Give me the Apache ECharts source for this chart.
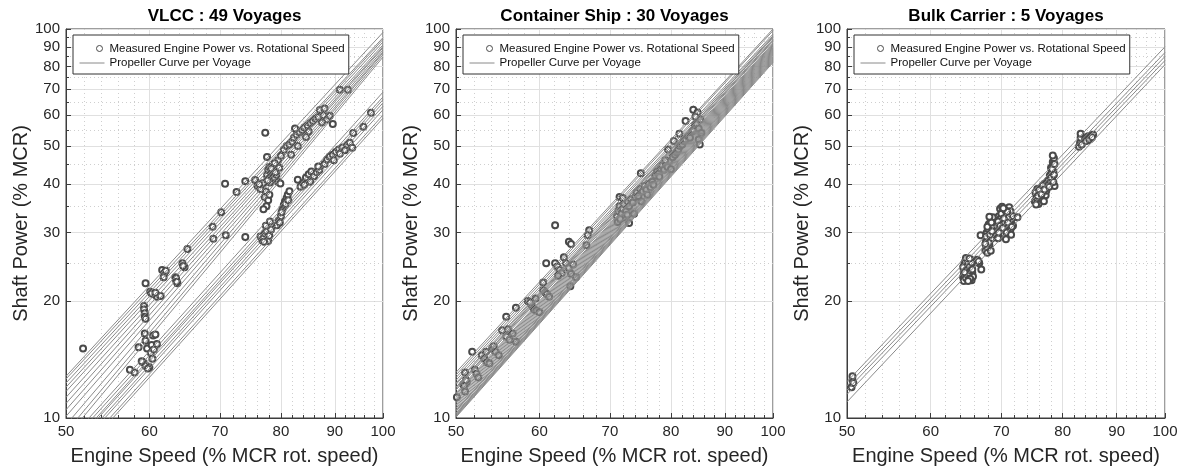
<!DOCTYPE html>
<html><head><meta charset="utf-8">
<script src="https://cdn.jsdelivr.net/npm/echarts@6/dist/echarts.min.js"></script>
<style>html,body{margin:0;padding:0;background:#fff}#c{width:1186px;height:472px}</style>
</head><body><div id="c"></div><script>
// ---------- data ----------
const xMajorTicks = [50, 60, 70, 80, 90, 100];
const xMinorTicks = [52, 54, 56, 58, 62, 64, 66, 68, 72, 74, 76, 78, 82, 84, 86, 88, 92, 94, 96, 98];
const yMajorTicks = [10, 20, 30, 40, 50, 60, 70, 80, 90, 100];
const yMinorTicks = [25, 35, 45, 55, 65, 75, 85, 95];
const panelTitles = ['VLCC : 49 Voyages', 'Container Ship : 30 Voyages', 'Bulk Carrier : 5 Voyages'];
const seriesNames = ['Measured Engine Power vs. Rotational Speed', 'Propeller Curve per Voyage'];
const xAxisTitle = 'Engine Speed (% MCR rot. speed)';
const yAxisTitle = 'Shaft Power (% MCR)';
// propeller curves are given by their power at 50 % and 100 % speed
const curveSpeeds = [50, 100];

const vlccPoints = [
[51.9,15.1],[57.5,13.3],[58.1,13.1],[58.6,15.2],[59.4,16.5],[59.5,15.8],[59.7,15.1],[60.5,16.3],[60.8,16.4],[60.3,15.4],
[60.2,14.7],[59.2,13.9],[59.5,13.6],[60.0,13.5],[59.8,13.4],[60.6,15.0],[61.0,15.5],[59.0,14.0],[60.4,14.2],
[59.3,19.4],[59.3,19.0],[59.4,18.6],[59.4,18.2],[59.5,18.0],[59.5,22.2],[60.1,21.1],[60.6,20.8],[61.0,20.5],[61.5,20.6],
[60.3,20.9],[60.8,21.0],[61.7,24.0],[62.0,23.6],[62.2,23.9],[61.9,23.0],[63.5,23.0],[63.6,22.6],[63.8,22.2],[63.6,22.9],
[63.7,22.4],[64.5,25.0],[64.8,24.4],[64.6,24.6],[65.2,27.2],[68.9,31.0],[69.0,28.9],[70.2,33.8],[70.8,40.0],[70.9,29.5],
[72.6,38.1],[74.0,40.6],[74.0,29.2],[75.6,40.9],[76.0,39.5],[76.5,38.8],[77.0,40.2],[76.3,39.9],
[77.6,42.0],[77.8,43.5],[78.0,44.2],[78.2,41.0],[78.4,42.5],[78.6,43.0],[78.8,41.5],[79.0,43.8],[79.2,42.2],[79.5,40.5],
[79.7,44.0],[78.1,40.3],[77.9,41.3],[78.5,44.0],[79.0,42.8],[78.3,43.8],[77.7,40.8],
[77.4,38.2],[77.2,37.0],[77.8,36.3],[77.5,35.0],[77.0,34.4],[78.0,37.5],
[76.5,29.3],[76.8,28.6],[77.0,29.0],[77.2,29.8],[77.5,30.2],[77.8,28.5],[78.0,29.4],[78.3,30.5],[77.4,31.2],[78.1,32.0],[77.1,28.4],
[79.3,31.3],[79.6,32.2],[80.0,33.0],[80.3,34.5],[80.5,35.3],[80.7,36.0],[81.0,36.8],[81.2,37.5],[81.5,38.3],[80.1,33.8],
[80.8,35.5],[79.8,31.8],[81.3,36.3],[79.9,40.1],[83.0,41.0],
[83.5,39.3],[84.0,40.2],[84.5,41.5],[85.0,42.3],[85.5,43.0],[86.0,41.8],[86.5,42.8],[87.0,43.4],[84.2,39.8],[85.3,40.5],[86.8,44.3],
[88.0,45.0],[88.5,46.2],[89.0,47.0],[89.6,47.5],[90.2,48.3],[90.8,49.0],[91.5,49.6],[92.0,48.8],[92.5,50.4],[93.0,51.0],
[93.5,49.5],[89.8,46.0],[91.0,47.8],[93.7,54.0],[95.8,56.1],[97.4,60.9],
[80.5,48.9],[81.0,50.0],[81.5,50.5],[82.0,51.3],[82.3,52.5],[82.8,53.5],[83.3,54.3],[83.8,55.0],[84.2,55.8],[84.8,56.5],
[85.3,57.3],[85.8,58.0],[86.3,58.8],[86.8,59.4],[82.5,55.5],[81.8,47.5],[83.0,50.0],[84.5,52.8],[85.0,54.5],
[79.5,46.0],[80.0,47.2],[78.9,45.2],[77.3,54.1],[77.6,46.9],
[87.1,61.9],[87.8,60.0],[88.5,58.5],[89.0,59.8],[89.6,57.0],[88.0,62.5],[87.5,57.5],[91.0,69.8],[92.6,69.8]
];
const vlccCurves = [
[12.8,98],[12.6,95],[12.3,94],[12.0,92.6],[11.7,91],[11.3,90],[10.9,89.4],[10.5,88.3],[10.1,87.3],[9.6,86.8],[9.2,85.8],[8.9,84.7],
[8.6,68.8],[8.4,66.9],[8.2,65.8],[8.1,64.6],[7.9,63.3],[7.75,62],[7.5,60.1],[7.35,59]
];

const containerPoints = [
[50.1,11.3],[51.0,11.7],[50.8,12.2],[51.0,12.3],[51.2,12.4],[50.9,12.1],[51.1,12.5],[51.0,13.1],[51.8,14.8],[52.1,13.3],
[52.3,13.0],[52.5,12.7],[52.9,14.5],[53.2,14.2],[53.5,13.9],[53.8,13.8],[53.4,14.8],[54.1,15.1],[54.5,14.8],[54.9,14.5],
[54.3,15.3],[55.3,16.8],[55.8,16.2],[56.2,15.9],[56.6,16.5],[57.0,15.7],[56.0,16.9],
[55.8,18.2],[57.0,19.2],[58.5,20.0],[59.0,19.5],[59.3,19.0],[59.6,18.9],[60.0,18.7],[58.8,19.8],[59.5,20.3],
[60.5,21.3],[60.8,21.0],[61.0,20.8],[61.3,20.5],[60.5,22.3],[60.9,25.0],[62.1,31.3],
[62.1,25.0],[62.4,24.5],[62.7,24.0],[63.0,23.6],[62.5,23.2],[63.3,25.9],[63.6,25.0],[64.0,24.3],[64.3,23.5],[64.6,24.8],
[65.0,23.0],[64.2,21.8],[64.0,28.4],[64.3,28.0],[66.5,27.8],[66.9,30.4],[66.7,29.5],
[71.1,33.0],[71.3,34.0],[71.5,35.0],[71.8,33.5],[72.0,34.5],[72.2,35.5],[72.5,34.0],[72.8,36.0],[73.0,35.0],[73.3,36.5],
[73.6,35.8],[74.0,37.0],[71.5,37.0],[72.3,32.8],[71.2,31.9],[73.0,31.7],[72.0,36.8],[73.8,33.5],[71.6,32.5],[72.7,33.3],
[74.2,38.0],[74.5,37.2],[74.8,38.8],[75.2,38.2],[75.5,39.5],[75.8,38.6],[76.2,40.0],[76.5,39.2],[76.8,40.5],[77.0,39.8],
[74.9,42.6],[75.0,36.0],[76.0,37.5],
[77.3,42.0],[77.6,43.0],[77.9,42.5],[78.2,43.8],[78.5,44.5],[78.8,43.5],[79.1,45.0],[79.4,44.2],[79.7,45.8],[80.0,43.6],
[78.0,41.7],[79.0,46.0],
[80.3,46.8],[80.7,47.5],[81.0,48.2],[81.3,49.0],[81.6,50.0],[82.0,50.5],[82.3,51.5],[82.6,52.0],[82.6,58.0],[83.0,53.0],
[83.4,52.5],[83.8,54.5],[84.0,55.0],[84.3,56.5],[84.6,57.0],[85.0,55.5],[84.0,62.0],[84.8,61.0],[85.0,52.0],[85.2,50.5],
[85.3,58.5],[85.5,54.0],[84.4,59.5],[81.5,53.8],[80.5,51.5],[79.5,49.0]
];
const containerCurves = [
[13.1,100],[12.9,99],[12.7,97],[12.5,96],[12.3,95],[12.2,94],[12.0,93.5],[11.9,93],[11.8,92],[11.6,91.5],
[11.5,91],[11.4,90.5],[11.3,90],[11.2,89.5],[11.1,89],[11.0,88.5],[10.9,88],[10.8,87.5],[10.7,87],[10.6,86.5],
[10.5,86],[10.45,85.5],[10.4,85],[10.3,84.5],[10.25,84],[10.2,83.5],[10.15,83],[10.1,82.5],[10.05,82],[12.0,95.5]
];

const bulkPoints = [
[50.6,12.5],[50.5,12.0],[50.7,12.3],[50.6,12.8],
[64.4,23.0],[64.5,24.0],[64.6,25.0],[64.7,23.5],[64.8,24.5],[64.9,22.7],[65.0,25.3],[65.1,23.8],[65.2,24.8],[65.3,23.2],
[65.4,24.2],[65.5,25.5],[65.6,22.6],[65.7,23.6],[64.5,22.5],[64.6,24.7],[64.9,25.6],[65.2,22.9],[65.4,25.0],[65.0,24.1],
[64.7,23.9],[65.6,24.4],[65.8,23.1],[64.4,24.4],[64.5,23.3],[64.7,25.3],[64.8,22.9],[64.9,24.0],[65.0,23.4],[65.1,25.0],
[65.2,23.6],[65.3,24.5],[65.4,22.8],[65.5,23.9],[65.6,25.1],[65.7,24.1],[64.6,23.7],[64.8,25.8],[65.1,22.5],[65.3,25.7],
[66.4,25.5],[66.7,25.0],[67.0,24.1],[66.9,29.5],[66.6,25.3],
[67.6,27.0],[67.7,28.5],[67.8,30.0],[67.9,26.6],[68.0,29.2],[68.1,31.5],[68.2,27.8],[68.3,30.7],[68.4,32.2],[68.5,28.9],
[68.6,31.0],[68.7,32.8],[68.8,29.8],[67.8,27.5],[68.0,30.6],[68.4,26.9],[67.7,29.3],[67.9,31.0],[68.1,28.2],[68.3,29.6],
[68.5,31.8],[68.2,32.9],[67.6,28.0],[68.6,30.2],
[69.4,31.0],[69.6,33.0],[69.8,34.5],[70.0,30.2],[70.2,32.0],[70.4,33.8],[70.6,29.5],[70.8,31.3],[71.0,33.2],[71.2,34.8],
[71.4,30.5],[71.6,32.5],[71.8,31.2],[69.5,29.0],[70.1,34.9],[70.7,28.8],[71.0,30.0],[69.9,32.6],[70.5,31.7],[71.3,33.9],
[69.7,30.4],[70.3,29.8],[69.5,32.0],[69.8,31.2],[70.0,33.5],[70.2,30.8],[70.4,32.6],[70.6,34.2],[70.8,30.0],[71.0,31.8],
[71.2,32.9],[71.4,34.0],[71.6,31.0],[71.8,33.0],[70.9,33.9],[70.3,34.6],[69.6,30.0],[71.5,29.6],
[72.5,32.8],
[75.3,36.0],[75.5,37.5],[75.7,38.8],[75.9,35.5],[76.1,37.0],[76.3,39.0],[76.5,36.5],[76.7,38.0],[76.9,40.0],[77.1,37.4],
[77.3,39.2],[77.5,40.8],[75.6,36.8],[76.2,38.2],[76.8,36.1],[77.0,39.8],[75.4,38.0],[75.8,37.2],[76.0,38.6],[76.4,37.6],
[76.6,39.6],[77.2,38.4],[75.5,35.4],[76.9,38.7],
[77.6,40.0],[77.8,42.0],[78.0,44.0],[78.2,41.0],[78.3,45.5],[78.4,43.0],[78.5,46.5],[78.6,39.5],[78.3,47.3],[77.9,40.8],
[78.1,42.8],[78.4,44.8],[78.0,41.5],[78.2,43.6],[78.5,42.2],[78.6,45.0],[77.7,39.3],[78.4,40.4],
[82.9,49.8],[83.1,51.0],[83.2,52.5],[83.2,53.8],[83.4,50.5],[84.0,52.0],[84.3,52.5],[84.6,53.0],[84.9,52.8],[85.2,53.3],
[85.5,53.5],[84.5,51.8],[85.0,52.2],[84.2,51.5],[84.8,52.0],[85.3,52.7]
];
const bulkCurves = [[12.4,90],[12.1,87],[11.8,85],[11.5,83],[11.0,81]];

// ---------- chart ----------
const panelPoints = [vlccPoints, containerPoints, bulkPoints];
const panelCurves = [vlccCurves, containerCurves, bulkCurves];
const FONT = 'Liberation Sans, Arial, Helvetica, sans-serif';
const gridBoxes = [
  {left: 66, top: 29, width: 317, height: 389},
  {left: 456, top: 29, width: 317, height: 389},
  {left: 847, top: 29, width: 318, height: 389}
];
const axisColor = '#3c3c3c';
const markerColor = '#4a4a4a';
const curveColor = '#8a8a8a';
const grids = [], xAxes = [], yAxes = [], titles = [], legends = [], series = [];

gridBoxes.forEach((g, i) => {
  grids.push(Object.assign({show: true, borderColor: axisColor, borderWidth: 1, backgroundColor: '#fff', outerBoundsMode: 'none', containLabel: false}, g));
  titles.push({text: panelTitles[i], left: g.left + g.width / 2, top: 8, textAlign: 'center', padding: 0,
    textStyle: {fontFamily: FONT, fontSize: 17, fontWeight: 'bold', color: '#000'}});
  // major x axis
  xAxes.push({type: 'log', logBase: 10, gridIndex: i, min: 50, max: 100, position: 'bottom',
    name: xAxisTitle, nameLocation: 'middle', nameGap: 28, nameMoveOverlap: false,
    nameTextStyle: {fontFamily: FONT, fontSize: 20, color: '#262626'},
    axisLine: {show: true, lineStyle: {color: axisColor, width: 1}},
    axisTick: {show: true, inside: true, length: 5, customValues: xMajorTicks, lineStyle: {color: axisColor}},
    axisLabel: {show: true, customValues: xMajorTicks, margin: 6, fontFamily: FONT, fontSize: 15, color: '#262626', hideOverlap: false},
    splitLine: {show: true, lineStyle: {color: '#e0e0e0', width: 1}},
    minorTick: {show: false}, minorSplitLine: {show: false}});
  // minor x axis
  xAxes.push({type: 'log', logBase: 10, gridIndex: i, min: 50, max: 100, position: 'bottom',
    axisLine: {show: false},
    axisTick: {show: true, inside: true, length: 3, customValues: xMinorTicks, lineStyle: {color: axisColor}},
    axisLabel: {show: false},
    splitLine: {show: true, lineStyle: {color: '#cfcfcf', width: 1, type: [1, 3]}}});
  // major y axis
  yAxes.push({type: 'log', logBase: 10, gridIndex: i, min: 10, max: 100, position: 'left',
    name: yAxisTitle, nameLocation: 'middle', nameGap: 35, nameMoveOverlap: false,
    nameTextStyle: {fontFamily: FONT, fontSize: 20, color: '#262626'},
    axisLine: {show: true, lineStyle: {color: axisColor, width: 1}},
    axisTick: {show: true, inside: true, length: 5, customValues: yMajorTicks, lineStyle: {color: axisColor}},
    axisLabel: {show: true, customValues: yMajorTicks, margin: 6, fontFamily: FONT, fontSize: 15, color: '#262626', hideOverlap: false},
    splitLine: {show: true, lineStyle: {color: '#e0e0e0', width: 1}},
    minorTick: {show: false}, minorSplitLine: {show: false}});
  // minor y axis
  yAxes.push({type: 'log', logBase: 10, gridIndex: i, min: 10, max: 100, position: 'left',
    axisLine: {show: false},
    axisTick: {show: true, inside: true, length: 3, customValues: yMinorTicks, lineStyle: {color: axisColor}},
    axisLabel: {show: false},
    splitLine: {show: true, lineStyle: {color: '#cfcfcf', width: 1, type: [1, 3]}}});

  legends.push({show: true, left: g.left + 7, top: 35, orient: 'vertical',
    backgroundColor: '#fff', borderColor: '#333', borderWidth: 1, borderRadius: 0,
    padding: [5, 4, 5, 4], itemGap: 0, itemWidth: 25, itemHeight: 12,
    selectedMode: false,
    textStyle: {fontFamily: FONT, fontSize: 11.5, color: '#111'},
    data: [
      {name: seriesNames[0], icon: 'path://M0,0M25,12M23,6A3,3 0 1 1 23,5.99Z', itemStyle: {color: 'none', borderColor: markerColor, borderWidth: 1}},
      {name: seriesNames[1], itemStyle: {opacity: 0}, lineStyle: {color: curveColor, width: 1}}
    ]});

  series.push({type: 'scatter', name: seriesNames[0], xAxisIndex: 2 * i, yAxisIndex: 2 * i,
    symbol: 'emptyCircle', symbolSize: 6, data: panelPoints[i], silent: true, z: 2,
    itemStyle: {color: markerColor, borderColor: markerColor, borderWidth: 1, opacity: 1}});
  panelCurves[i].forEach(c => {
    series.push({type: 'line', name: seriesNames[1], xAxisIndex: 2 * i, yAxisIndex: 2 * i,
      data: [[curveSpeeds[0], c[0]], [curveSpeeds[1], c[1]]], showSymbol: false, symbol: 'none',
      clip: true, silent: true, z: 3, lineStyle: {color: curveColor, width: 1}, itemStyle: {color: curveColor}});
  });
});

const chart = echarts.init(document.getElementById('c'), null, {renderer: 'canvas'});
chart.setOption({
  animation: false,
  backgroundColor: '#fff',
  title: titles, legend: legends, grid: grids, xAxis: xAxes, yAxis: yAxes, series: series,
  tooltip: {show: false}
});
</script></body></html>
